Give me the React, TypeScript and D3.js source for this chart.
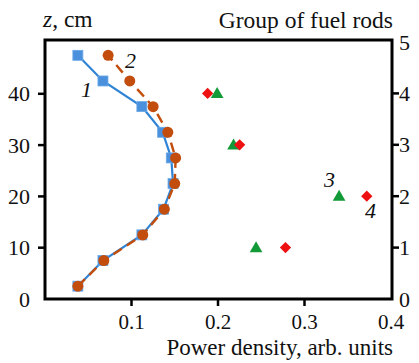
import React from "react";
import * as d3 from "d3";

const zValues = [2.5, 7.5, 12.5, 17.5, 22.5, 27.5, 32.5, 37.5, 42.5, 47.5];
const series1 = [0.038, 0.067, 0.112, 0.137, 0.148, 0.146, 0.136, 0.112, 0.067, 0.038];
const series2 = [0.038, 0.068, 0.113, 0.138, 0.15, 0.151, 0.142, 0.125, 0.098, 0.073];
const groups = [1, 2, 3, 4];
const series3 = [0.244, 0.34, 0.218, 0.199];
const series4 = [0.278, 0.372, 0.225, 0.188];
const xTicks = [0.1, 0.2, 0.3, 0.4];
const zTicks = [0, 10, 20, 30, 40];
const gTicks = [0, 1, 2, 3, 4, 5];

const TF = { fontFamily: '"Liberation Serif"' };

export default function App() {
  const W = 419, H = 363;
  const L = 45, R = 392, T = 40, B = 299;
  const x = d3.scaleLinear().domain([0, 0.4]).range([L, 391]);
  const y = d3.scaleLinear().domain([0, 50]).range([B, 42.5]);
  const yg = d3.scaleLinear().domain([0, 5]).range([B, 42]);
  const line = d3.line<number>().x((d) => x(d)).y((_, i) => y(zValues[i]));
  const blue = "#2f84d6";
  const orange = "#c24d0c";
  return (
    <svg width={W} height={H} style={{ position: "absolute", left: 0, top: 0 }}>
      <rect x={0} y={0} width={W} height={H} fill="#fff" />
      {/* series 1 */}
      <path d={line(series1) || ""} fill="none" stroke={blue} strokeWidth={2.2} />
      {series1.map((v, i) => (
        <rect key={"s1" + i} x={x(v) - 5} y={y(zValues[i]) - 5} width={10} height={10} fill="#4a90dc" stroke="#6aa8e8" strokeWidth={0.8} />
      ))}
      {/* series 2 */}
      <path d={line(series2) || ""} fill="none" stroke={orange} strokeWidth={2.4} strokeDasharray="10,6" />
      {series2.map((v, i) => (
        <circle key={"s2" + i} cx={x(v)} cy={y(zValues[i])} r={5.5} fill={orange} />
      ))}
      {/* series 3 */}
      {series3.map((v, i) => {
        const cx = x(v), cy = yg(groups[i]);
        const path = d3.symbol(d3.symbolTriangle, 70)() || "";
        return <path key={"s3" + i} d={path} transform={`translate(${cx},${cy + 1})`} fill="#139a38" />;
      })}
      {/* series 4 */}
      {series4.map((v, i) => {
        const cx = x(v), cy = yg(groups[i]);
        return <rect key={"s4" + i} x={cx - 4} y={cy - 4} width={8} height={8} transform={`rotate(45,${cx},${cy})`} fill="#ee1111" />;
      })}
      {/* frame */}
      <rect x={L} y={T} width={R - L} height={B - T} fill="none" stroke="#000" strokeWidth={3} />
      {/* left ticks */}
      {zTicks.map((t) => (
        <g key={"zt" + t}>
          {t > 0 && <line x1={L - 7} x2={L} y1={y(t)} y2={y(t)} stroke="#000" strokeWidth={2.5} />}
          <text x={30} y={y(t) + 7.5} textAnchor="end" fontSize={22} fill="#111" style={TF}>{t}</text>
        </g>
      ))}
      {/* right ticks */}
      {gTicks.map((t) => (
        <g key={"gt" + t}>
          {t > 0 && t < 5 && <line x1={R} x2={R + 7} y1={yg(t)} y2={yg(t)} stroke="#000" strokeWidth={2.5} />}
          <text x={399} y={yg(t) + 7.5} textAnchor="start" fontSize={22} fill="#111" style={TF}>{t}</text>
        </g>
      ))}
      {/* bottom ticks */}
      {xTicks.map((t) => (
        <g key={"xt" + t}>
          {t < 0.4 && <line x1={x(t)} x2={x(t)} y1={B} y2={B + 7} stroke="#000" strokeWidth={2.5} />}
          <text x={x(t)} y={329} textAnchor="middle" fontSize={21} fill="#111" style={TF}>{t.toFixed(1)}</text>
        </g>
      ))}
      {/* titles */}
      <text x={43} y={27} fontSize={23.5} fill="#111" style={TF}><tspan fontStyle="italic">z</tspan>, cm</text>
      <text x={393} y={28} fontSize={23.5} textAnchor="end" fill="#111" style={TF}>Group of fuel rods</text>
      <text x={393} y={355} fontSize={23} textAnchor="end" fill="#111" style={TF}>Power density, arb. units</text>
      {/* series labels */}
      <text x={81} y={97} fontSize={22} fontStyle="italic" fill="#111" style={TF}>1</text>
      <text x={125} y={68} fontSize={22} fontStyle="italic" fill="#111" style={TF}>2</text>
      <text x={324} y={187} fontSize={22} fontStyle="italic" fill="#111" style={TF}>3</text>
      <text x={365} y={218} fontSize={22} fontStyle="italic" fill="#111" style={TF}>4</text>
    </svg>
  );
}
